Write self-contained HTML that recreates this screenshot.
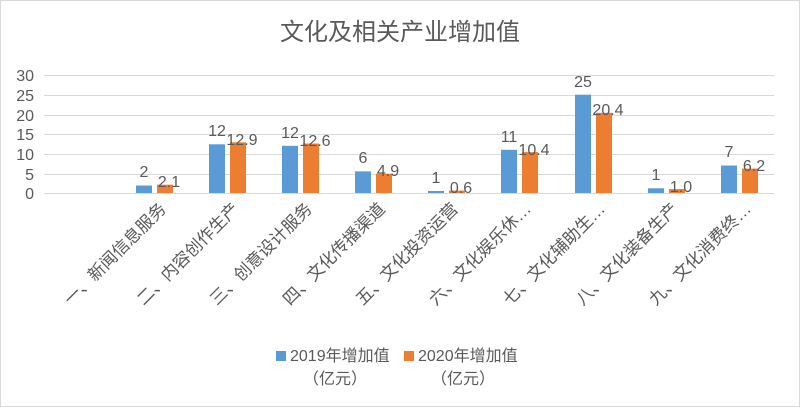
<!DOCTYPE html>
<html><head><meta charset="utf-8"><style>
body{margin:0;background:#fff}
svg{display:block}
text{font-family:"Liberation Sans","Noto Sans CJK SC",sans-serif;fill:#595959}
</style></head><body>
<svg width="800" height="407" viewBox="0 0 800 407">
<rect x="0.5" y="0.5" width="799" height="406" fill="#fff" stroke="#d9d9d9"/>
<text x="400" y="40" font-size="24" text-anchor="middle">文化及相关产业增加值</text>
<g stroke="#d9d9d9" stroke-width="1">
<line x1="44" x2="774" y1="75.5" y2="75.5"/><line x1="44" x2="774" y1="95.5" y2="95.5"/>
<line x1="44" x2="774" y1="115.5" y2="115.5"/><line x1="44" x2="774" y1="134.5" y2="134.5"/>
<line x1="44" x2="774" y1="154.5" y2="154.5"/><line x1="44" x2="774" y1="174.5" y2="174.5"/>
<line x1="44" x2="774" y1="193.5" y2="193.5"/>
</g>
<g font-size="16" text-anchor="end">
<text x="34" y="81">30</text><text x="34" y="101">25</text><text x="34" y="121">20</text>
<text x="34" y="140">15</text><text x="34" y="160">10</text><text x="34" y="180">5</text><text x="34" y="199">0</text>
</g>
<g fill="#5b9bd5">
<rect x="136" y="185.5" width="16" height="7.5"/>
<rect x="209" y="144.3" width="16" height="48.7"/>
<rect x="282" y="145.8" width="16" height="47.2"/>
<rect x="355" y="171.4" width="16" height="21.6"/>
<rect x="428" y="191" width="16" height="2"/>
<rect x="501" y="149.8" width="16" height="43.2"/>
<rect x="575" y="94.7" width="16" height="98.3"/>
<rect x="648" y="188.3" width="16" height="4.7"/>
<rect x="721" y="165.5" width="16" height="27.5"/>
</g>
<g fill="#ed7d31">
<rect x="157" y="184.7" width="16" height="8.3"/>
<rect x="230" y="142.3" width="16" height="50.7"/>
<rect x="303" y="143.5" width="16" height="49.5"/>
<rect x="376" y="173.7" width="16" height="19.3"/>
<rect x="449" y="190.6" width="16" height="2.4"/>
<rect x="522" y="152.1" width="16" height="40.9"/>
<rect x="596" y="112.8" width="16" height="80.2"/>
<rect x="669" y="189.1" width="16" height="3.9"/>
<rect x="742" y="168.6" width="16" height="24.4"/>
</g>
<g font-size="16" text-anchor="middle">
<text x="144" y="177">2</text><text x="217" y="136">12</text><text x="290" y="138">12</text>
<text x="363" y="163">6</text><text x="436" y="183">1</text><text x="509" y="142">11</text>
<text x="583" y="87">25</text><text x="656" y="180">1</text><text x="729" y="157">7</text>
<text x="169" y="187">2.1</text><text x="242" y="145">12.9</text><text x="315" y="146">12.6</text>
<text x="388" y="176">4.9</text><text x="461" y="193">0.6</text><text x="534" y="155">10.4</text>
<text x="608" y="115">20.4</text><text x="681" y="192">1.0</text><text x="754" y="171">6.2</text>
</g>
<g font-size="17" text-anchor="end">
<text transform="translate(167,210) rotate(-45)">一、新闻信息服务</text>
<text transform="translate(240,210) rotate(-45)">二、内容创作生产</text>
<text transform="translate(313,210) rotate(-45)">三、创意设计服务</text>
<text transform="translate(386,210) rotate(-45)">四、文化传播渠道</text>
<text transform="translate(459,210) rotate(-45)">五、文化投资运营</text>
<text transform="translate(532,210) rotate(-45)">六、文化娱乐休…</text>
<text transform="translate(606,210) rotate(-45)">七、文化辅助生…</text>
<text transform="translate(679,210) rotate(-45)">八、文化装备生产</text>
<text transform="translate(752,210) rotate(-45)">九、文化消费终…</text>
</g>
<rect x="276" y="351" width="10" height="10" fill="#5b9bd5"/>
<text x="290" y="361" font-size="16">2019年增加值</text>
<text x="303" y="384" font-size="16">（亿元）</text>
<rect x="404" y="351" width="10" height="10" fill="#ed7d31"/>
<text x="418" y="361" font-size="16">2020年增加值</text>
<text x="431" y="384" font-size="16">（亿元）</text>
</svg>
</body></html>
